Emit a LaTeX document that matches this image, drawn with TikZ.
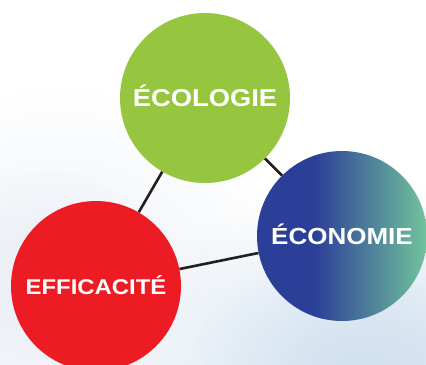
\documentclass[tikz,border=0pt]{standalone}
\usepackage{fontspec}
\usepackage{xcolor}
\usepackage{tikz}
\usetikzlibrary{shapes,fadings}
\newfontfamily\lblfont{Liberation Sans Bold}[FakeStretch=1.12]

\definecolor{ecogreen}{HTML}{96C63F}
\definecolor{effred}{HTML}{ED1C24}
\definecolor{econblue}{HTML}{2C3F98}
\definecolor{econteal}{HTML}{72C49B}
\definecolor{edgegray}{HTML}{231F20}
\definecolor{skyblue}{HTML}{D3E2F0}
\definecolor{skygray}{HTML}{EBF0F6}

\pgfdeclarehorizontalshading{econshade}{100bp}{color(0bp)=(econblue); color(42bp)=(econblue); color(75bp)=(econteal); color(100bp)=(econteal)}
\tikzfading[name=softblob, inner color=transparent!0, outer color=transparent!100]

\begin{document}
\begin{tikzpicture}[x=1bp,y=-1bp]
            \tikzset{vertex/.style = {circle, minimum size=170bp, inner sep=0pt,
                text=white, text height=16.5bp, text depth=0pt}}
            \tikzset{edge/.style = {-, line width=2.6bp, draw=edgegray}}
            \tikzset{cloud/.style = {path fading=softblob}}

            % background
            \useasboundingbox (0,0) rectangle (426,365);
            \fill[white] (0,0) rectangle (426,365);
            \fill[skygray, cloud] (60,290) ellipse (230 and 200);
            \fill[skygray, cloud] (40,280) ellipse (130 and 110);
            \fill[skyblue, cloud] (380,390) ellipse (280 and 210);
            \fill[skyblue, cloud] (360,370) ellipse (170 and 120);

            % vertices
            \node[vertex, fill=ecogreen, font=\lblfont\fontsize{24.5}{26}\selectfont] (eco) at (205,98) {ÉCOLOGIE};
            \node[vertex, shading=econshade, font=\lblfont\fontsize{23.3}{25}\selectfont] (econ) at (342,236) {ÉCONOMIE};
            \node[vertex, fill=effred, font=\lblfont\fontsize{21.4}{23}\selectfont] (eff) at (96,286) {EFFICACITÉ};

            % edges
            \foreach \y in {econ,eff} {\draw[edge] (eco) to (\y);}
            \foreach \y in {econ} {\draw[edge] (eff) to (\y);}

\end{tikzpicture}
\end{document}
